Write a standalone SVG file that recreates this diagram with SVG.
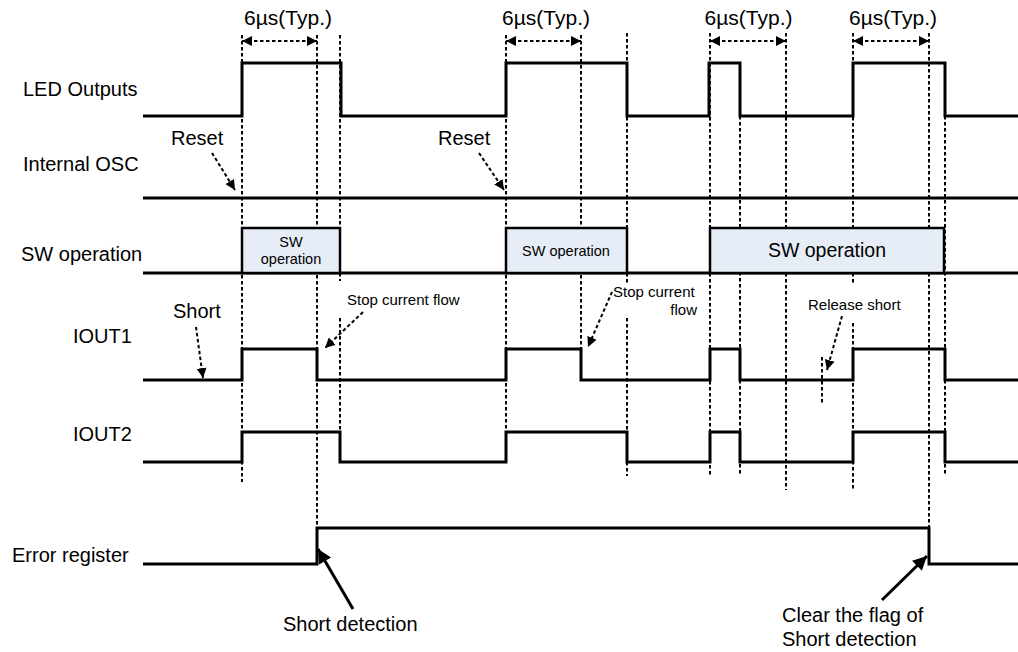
<svg xmlns="http://www.w3.org/2000/svg" width="1018" height="652" viewBox="0 0 1018 652">
<style>
text{font-family:"Liberation Sans",Arial,sans-serif;fill:#000}
.lbl{font-size:20px}
.dim{font-size:21px;text-anchor:middle}
.sm{font-size:15px}
.box{font-size:14.5px;text-anchor:middle}
.wave{fill:none;stroke:#000;stroke-width:3;stroke-linejoin:miter}
.sw{fill:#E7EDF7;stroke:#000;stroke-width:2.5}
.guide{stroke:#000;stroke-width:2;stroke-dasharray:3.5 2.5;fill:none}
.darr{stroke:#000;stroke-width:2;stroke-dasharray:3.5 2.5;fill:none}
.sarr{stroke:#000;stroke-width:3;fill:none}
</style>
<defs>
<marker id="ah" markerUnits="userSpaceOnUse" viewBox="0 0 10 10" refX="10" refY="5" markerWidth="10" markerHeight="10" orient="auto-start-reverse"><path d="M0,0 L10,5 L0,10 z" fill="#000"/></marker>
<marker id="ahb" markerUnits="userSpaceOnUse" viewBox="0 0 10 10" refX="10" refY="5" markerWidth="17" markerHeight="14" orient="auto"><path d="M0,0 L10,5 L0,10 z" fill="#000"/></marker>
</defs>
<rect width="1018" height="652" fill="#fff"/>

<g id="guides">
<path class="guide" d="M242,35V482 M317,35V527 M340,35V228 M340,273V281 M340,318V432 M506,35V432 M581,35V349 M627,33V283 M627,318V476 M710,33V476 M740,116V476 M786,33V490 M822,357V405 M853,33V283 M853,323V490 M929,33V527 M945,116V476"/>
</g>

<g id="led-outputs">
<text class="lbl" x="23" y="96">LED Outputs</text>
<path class="wave" d="M143,116H242V63H341V116H506V63H627V116H709V63H740V116H853V63H945V116H1018"/>
</g>

<g id="internal-osc">
<text class="lbl" x="23" y="171">Internal OSC</text>
<path class="wave" d="M143,198H1018"/>
</g>

<g id="sw-operation">
<text class="lbl" x="21" y="261">SW operation</text>
<path class="wave" d="M143,273H1018"/>
<rect class="sw" x="242" y="228" width="98" height="45"/>
<rect class="sw" x="506" y="228" width="121" height="45"/>
<rect class="sw" x="710" y="228" width="234" height="45"/>
<text class="box" x="291" y="247">SW</text>
<text class="box" x="291" y="264">operation</text>
<text class="box" x="566" y="256">SW operation</text>
<text class="box" x="827" y="257" style="font-size:19.5px">SW operation</text>
</g>

<g id="iout1">
<text class="lbl" x="73" y="343">IOUT1</text>
<path class="wave" d="M143,380H242V349H317V380H506V349H581V380H710V349H740V380H853V349H945V380H1018"/>
</g>

<g id="iout2">
<text class="lbl" x="73" y="441">IOUT2</text>
<path class="wave" d="M143,462H242V432H340V462H506V432H627V462H710V432H740V462H853V432H945V462H1018"/>
</g>

<g id="error-register">
<text class="lbl" x="12" y="562">Error register</text>
<path class="wave" d="M143,564H317V528H929V564H1018"/>
</g>

<g id="timing-labels">
<text class="dim" x="288" y="25">6µs(Typ.)</text>
<text class="dim" x="546" y="25">6µs(Typ.)</text>
<text class="dim" x="748.5" y="25">6µs(Typ.)</text>
<text class="dim" x="893" y="25">6µs(Typ.)</text>
</g>

<g id="annotations">
<text class="lbl" x="171" y="145">Reset</text>
<text class="lbl" x="438" y="145">Reset</text>
<text class="lbl" x="173" y="318">Short</text>
<text class="sm" x="347" y="305">Stop current flow</text>
<text class="sm" x="613" y="297">Stop current</text>
<text class="sm" x="697" y="315" text-anchor="end">flow</text>
<text class="sm" x="808" y="310">Release short</text>
<text class="lbl" x="283" y="631">Short detection</text>
<text class="lbl" x="782" y="622">Clear the flag of</text>
<text class="lbl" x="782" y="646">Short detection</text>
</g>

<g id="connectors">
<path class="darr" d="M242,41H317" marker-start="url(#ah)" marker-end="url(#ah)"/>
<path class="darr" d="M506,41H581" marker-start="url(#ah)" marker-end="url(#ah)"/>
<path class="darr" d="M710,41H786" marker-start="url(#ah)" marker-end="url(#ah)"/>
<path class="darr" d="M853,41H929" marker-start="url(#ah)" marker-end="url(#ah)"/>
<path class="darr" d="M212,153L235,190" marker-end="url(#ah)"/>
<path class="darr" d="M479,153L504,190" marker-end="url(#ah)"/>
<path class="darr" d="M196,327L203,378" marker-end="url(#ah)"/>
<path class="darr" d="M363,312L325,348" marker-end="url(#ah)"/>
<path class="darr" d="M612,292L588,347" marker-end="url(#ah)"/>
<path class="darr" d="M842,316L827,370" marker-end="url(#ah)"/>
<path class="sarr" d="M353,609L318,549" marker-end="url(#ahb)"/>
<path class="sarr" d="M882,600L927,556" marker-end="url(#ahb)"/>
</g>
</svg>
